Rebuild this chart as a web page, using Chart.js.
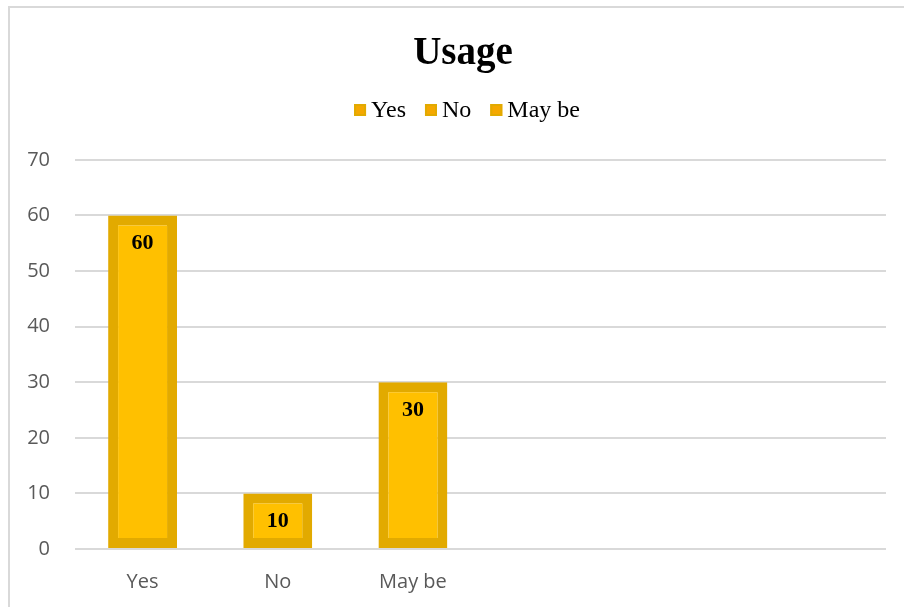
<!DOCTYPE html>
<html>
<head>
<meta charset="utf-8">
<script src="https://cdn.jsdelivr.net/npm/chart.js@4/dist/chart.umd.min.js"></script>
<style>
  html, body { margin: 0; padding: 0; background: #fff; }
  #wrap { position: relative; width: 904px; height: 607px; }
  #frame {
    position: absolute; left: 8px; top: 6px; right: 0; bottom: 0;
    border-left: 2px solid #d9d9d9; border-top: 2px solid #d9d9d9;
  }
  canvas { position: absolute; left: 0; top: 0; }
</style>
</head>
<body>
<div id="wrap">
  <div id="frame"></div>
  <canvas id="usageChart" width="904" height="607"></canvas>
</div>
<script>
// Categorías y valores
const categories = ['Yes', 'No', 'May be', '', '', ''];
const values = [60, 10, 30, null, null, null];
const legendNames = ['Yes', 'No', 'May be'];
const yMax = 70;
const yStep = 10;

const fillColor = '#FFC000';
const edgeColor = '#E2AA00';
const serif = '"Liberation Serif", "Times New Roman", serif';
const sans = '"Open Sans", "Liberation Sans", sans-serif';

// Etiquetas de valor dentro de cada barra
const valueLabels = {
    id: 'valueLabels',
    afterDatasetsDraw(chart) {
        const ctx = chart.ctx;
        const meta = chart.getDatasetMeta(0);
        ctx.save();
        ctx.font = 'bold 22px ' + serif;
        ctx.fillStyle = '#000';
        ctx.textAlign = 'center';
        ctx.textBaseline = 'middle';
        meta.data.forEach((bar, i) => {
            if (values[i] == null) return;
            ctx.fillText(String(values[i]), bar.x, bar.y + 28);
        });
        ctx.restore();
    }
};

// Leyenda compacta dibujada a mano (cuadro pegado al texto)
const compactLegend = {
    id: 'compactLegend',
    afterDraw(chart) {
        const ctx = chart.ctx;
        const box = 12, gapText = 5, gapItem = 19, y = 110;
        ctx.save();
        ctx.font = '24px ' + serif;
        const widths = legendNames.map(n => ctx.measureText(n).width);
        let total = 0;
        widths.forEach((w, i) => { total += box + gapText + w + (i < widths.length - 1 ? gapItem : 0); });
        let x = 467 - total / 2;
        ctx.textBaseline = 'middle';
        ctx.textAlign = 'left';
        legendNames.forEach((name, i) => {
            ctx.fillStyle = '#F5A800';
            ctx.fillRect(x, y - box / 2, box, box);
            ctx.strokeStyle = edgeColor;
            ctx.lineWidth = 2;
            ctx.strokeRect(x + 1, y - box / 2 + 1, box - 2, box - 2);
            ctx.fillStyle = '#000';
            ctx.fillText(name, x + box + gapText, y + 1);
            x += box + gapText + widths[i] + gapItem;
        });
        ctx.restore();
    }
};

const config = {
    type: 'bar',
    data: {
        labels: categories,
        datasets: [{
            label: 'Usage',
            data: values,
            backgroundColor: fillColor,
            borderColor: edgeColor,
            borderWidth: 10,
            borderSkipped: false,
            categoryPercentage: 1,
            barPercentage: 0.51
        }]
    },
    options: {
        responsive: false,
        animation: false,
        layout: { padding: { left: 22, right: 0, top: 0, bottom: 0 } },
        plugins: {
            title: {
                display: true,
                text: 'Usage',
                color: '#000',
                font: { family: serif, size: 39, weight: 'bold', lineHeight: 1.2 },
                padding: { top: 31, bottom: 82 }
            },
            legend: { display: false },
            tooltip: { enabled: false }
        },
        scales: {
            x: {
                grid: { display: false },
                border: { display: false },
                afterFit(scale) {
                    scale.height = 58;
                },
                ticks: {
                    color: '#595959',
                    font: { family: sans, size: 20 },
                    padding: 13,
                    maxRotation: 0
                }
            },
            y: {
                min: 0,
                max: yMax,
                afterFit(scale) {
                    scale.width = 53;
                },
                grid: { color: '#d9d9d9', lineWidth: 2, drawTicks: false },
                border: { display: false },
                ticks: {
                    stepSize: yStep,
                    color: '#595959',
                    font: { family: sans, size: 20 },
                    padding: 25
                }
            },
            // eje vacío a la derecha: solo deja margen
            yRight: {
                position: 'right',
                min: 0,
                max: yMax,
                afterFit(scale) {
                    scale.width = 18;
                },
                grid: { display: false },
                border: { display: false },
                ticks: { display: false }
            }
        }
    },
    plugins: [valueLabels, compactLegend]
};

const canvas = document.getElementById('usageChart');
canvas.chart = new Chart(canvas, config);
</script>
</body>
</html>
